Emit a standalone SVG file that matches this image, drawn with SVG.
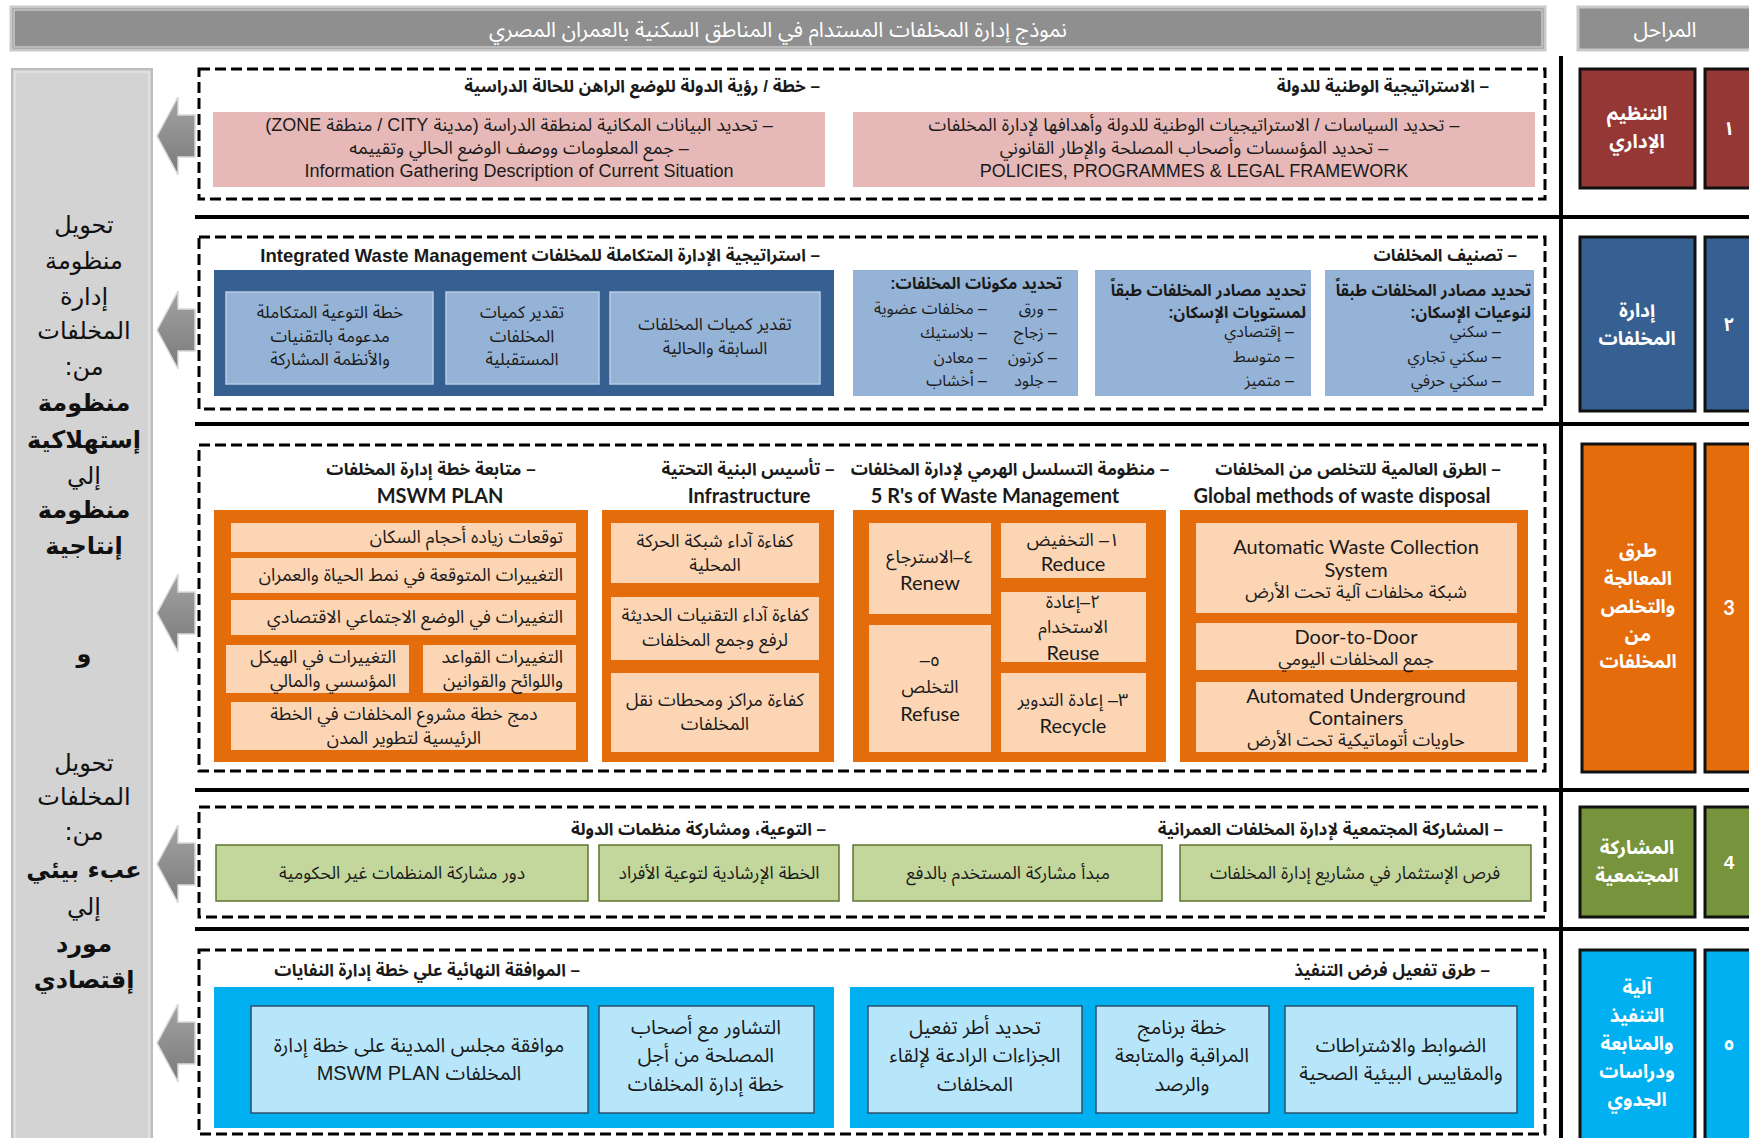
<svg xmlns="http://www.w3.org/2000/svg" width="1749" height="1138" viewBox="0 0 1749 1138">
<defs>
<style>
.t{font-family:"Liberation Sans","Noto Sans Arabic","Noto Naskh Arabic","DejaVu Sans",sans-serif;fill:#1a1a1a;dominant-baseline:central;font-size:18px}
.ar{direction:rtl;unicode-bidi:embed}
.c{text-anchor:middle}
.r{text-anchor:start}
.b{font-weight:bold}
.en{font-family:Lato,"Open Sans","Liberation Sans",sans-serif}
.w{fill:#fff}
.lp{font-family:"DejaVu Sans","Liberation Sans",sans-serif;font-size:24px;fill:#111}
.ti{font-size:17px;font-weight:bold}
.dash{fill:none;stroke:#000;stroke-width:3;stroke-dasharray:11 5}
.sep{stroke:#000;stroke-width:4}
.pink{fill:#e6b9b8}
.dblue{fill:#376092}
.lblue{fill:#95b3d7}
.lblueb{fill:#95b3d7;stroke:#b8cce4;stroke-width:1.5}
.orng{fill:#e46c0a}
.peach{fill:#fcd5b4}
.grn{fill:#c3d69b;stroke:#5f7530;stroke-width:1.5}
.cyan{fill:#00b0f0}
.lcyan{fill:#b7e6fa;stroke:#2c4f6b;stroke-width:1.5}
.ph{stroke:#111;stroke-width:3}
.arw{fill:url(#ag);stroke:#d9d9d9;stroke-width:1.5}
</style>
<linearGradient id="ag" x1="0" y1="0" x2="0" y2="1">
<stop offset="0" stop-color="#a3a3a3"/>
<stop offset="1" stop-color="#7a7a7a"/>
</linearGradient>
<path id="arrow" d="M0,0 L21,-39 L21,-21 L38,-21 L38,21 L21,21 L21,39 Z"/>
</defs>
<rect width="1749" height="1138" fill="#fff"/>

<!-- Header -->
<g id="header">
<rect x="11" y="7" width="1534" height="43" fill="#8f8f8f" stroke="#c9c9c9" stroke-width="3"/>
<rect x="14" y="10" width="1528" height="37" fill="none" stroke="#e6e6e6" stroke-width="1"/>
<text class="t ar c w" x="778" y="29" style="font-size:21px">نموذج إدارة المخلفات المستدام  في المناطق السكنية  بالعمران المصري</text>
</g>
<g id="phases-header">
<rect x="1578" y="7" width="185" height="43" fill="#8f8f8f" stroke="#c9c9c9" stroke-width="3"/>
<text class="t ar c w" x="1665" y="29" style="font-size:21px">المراحل</text>
</g>

<!-- Left panel -->
<g id="left-panel">
<rect x="12" y="69" width="140" height="1080" fill="#d3d3d3" stroke="#bdbdbd" stroke-width="2"/>
<rect x="15" y="72" width="134" height="1080" fill="none" stroke="#ececec" stroke-width="1"/>
<text class="lp ar c" x="84" y="233">تحويل</text>
<text class="lp ar c" x="84" y="269">منظومة</text>
<text class="lp ar c" x="84" y="305">إدارة</text>
<text class="lp ar c" x="84" y="339">المخلفات</text>
<text class="lp ar c" x="84" y="375">من:</text>
<text class="lp ar c b" x="84" y="411">منظومة</text>
<text class="lp ar c b" x="84" y="448">إستهلاكية</text>
<text class="lp ar c" x="84" y="484">إلي</text>
<text class="lp ar c b" x="84" y="518">منظومة</text>
<text class="lp ar c b" x="84" y="554">إنتاجية</text>
<text class="lp ar c b" x="84" y="662">و</text>
<text class="lp ar c" x="84" y="771">تحويل</text>
<text class="lp ar c" x="84" y="805">المخلفات</text>
<text class="lp ar c" x="84" y="840">من:</text>
<text class="lp ar c b" x="84" y="878">عبء  بيئي</text>
<text class="lp ar c" x="84" y="915">إلي</text>
<text class="lp ar c b" x="84" y="952">مورد</text>
<text class="lp ar c b" x="84" y="988">إقتصادي</text>
</g>

<!-- Connectors: arrows and separators -->
<g id="connectors">
<use href="#arrow" class="arw" x="157" y="136"/>
<use href="#arrow" class="arw" x="157" y="330"/>
<use href="#arrow" class="arw" x="157" y="613"/>
<use href="#arrow" class="arw" x="157" y="864"/>
<use href="#arrow" class="arw" x="157" y="1043"/>
<line class="sep" x1="195" y1="217" x2="1749" y2="217"/>
<line class="sep" x1="195" y1="424" x2="1749" y2="424"/>
<line class="sep" x1="195" y1="790" x2="1749" y2="790"/>
<line class="sep" x1="195" y1="929" x2="1749" y2="929"/>
<line class="sep" x1="1561" y1="56" x2="1561" y2="1138"/>
</g>

<!-- Row 1 -->
<g id="row1">
<rect class="dash" x="199" y="69" width="1346" height="130"/>
<text class="t ar r ti" x="1489" y="86">– الاستراتيجية الوطنية للدولة</text>
<text class="t ar r ti" x="820" y="86">– خطة / رؤية الدولة للوضع الراهن للحالة الدراسية</text>
<g id="r1-left">
<rect class="pink" x="213" y="112" width="612" height="75"/>
<text class="t ar c" x="519" y="125">– تحديد البيانات المكانية لمنطقة الدراسة (مدينة  CITY / منطقة ZONE)</text>
<text class="t ar c" x="519" y="148">– جمع المعلومات ووصف الوضع الحالي وتقييمه</text>
<text class="t c" x="519" y="171">Information Gathering Description of Current Situation</text>
</g>
<g id="r1-right">
<rect class="pink" x="853" y="112" width="682" height="75"/>
<text class="t ar c" x="1194" y="125">– تحديد السياسات / الاستراتيجيات الوطنية للدولة وأهدافها لإدارة المخلفات</text>
<text class="t ar c" x="1194" y="148">– تحديد المؤسسات وأصحاب المصلحة  والإطار القانوني</text>
<text class="t c" x="1194" y="171">POLICIES, PROGRAMMES &amp; LEGAL FRAMEWORK</text>
</g>
</g>

<!-- Row 2 -->
<g id="row2">
<rect class="dash" x="199" y="237" width="1346" height="172"/>
<text class="t ar r ti" x="1517" y="255">– تصنيف المخلفات</text>
<text class="t ar r ti" x="820" y="255">– استراتيجية الإدارة المتكاملة للمخلفات <tspan style="font-size:18.5px">Integrated Waste Management</tspan></text>
<g id="r2-iwm">
<rect class="dblue" x="214" y="270" width="620" height="126"/>
<rect class="lblueb" x="226" y="292" width="207" height="92"/>
<text class="t ar c" x="330" y="312" style="font-size:17px">خطة التوعية المتكاملة</text>
<text class="t ar c" x="330" y="336" style="font-size:17px">مدعومة بالتقنيات</text>
<text class="t ar c" x="330" y="359" style="font-size:17px">والأنظمة المشاركة</text>
<rect class="lblueb" x="446" y="292" width="153" height="92"/>
<text class="t ar c" x="522" y="312" style="font-size:17px">تقدير كميات</text>
<text class="t ar c" x="522" y="336" style="font-size:17px">المخلفات</text>
<text class="t ar c" x="522" y="359" style="font-size:17px">المستقبلية</text>
<rect class="lblueb" x="610" y="292" width="210" height="92"/>
<text class="t ar c" x="715" y="324" style="font-size:17px">تقدير كميات المخلفات</text>
<text class="t ar c" x="715" y="348" style="font-size:17px">السابقة والحالية</text>
</g>
<g id="r2-components">
<rect class="lblue" x="853" y="270" width="225" height="126"/>
<text class="t ar r b" x="1062" y="283" style="font-size:16px">تحديد مكونات المخلفات:</text>
<text class="t ar r" x="1057" y="308" style="font-size:16px">– ورق</text>
<text class="t ar r" x="1057" y="332" style="font-size:16px">– زجاج</text>
<text class="t ar r" x="1057" y="357" style="font-size:16px">– كرتون</text>
<text class="t ar r" x="1057" y="380" style="font-size:16px">– جلود</text>
<text class="t ar r" x="987" y="308" style="font-size:16px">– مخلفات عضوية</text>
<text class="t ar r" x="987" y="332" style="font-size:16px">– بلاستيك</text>
<text class="t ar r" x="987" y="357" style="font-size:16px">– معادن</text>
<text class="t ar r" x="987" y="380" style="font-size:16px">– أخشاب</text>
</g>
<g id="r2-levels">
<rect class="lblue" x="1095" y="270" width="216" height="126"/>
<text class="t ar r b" x="1306" y="290" style="font-size:16px">تحديد مصادر المخلفات طبقاً</text>
<text class="t ar r b" x="1306" y="312" style="font-size:16px">لمستويات الإسكان:</text>
<text class="t ar r" x="1294" y="331" style="font-size:16px">– إقتصادي</text>
<text class="t ar r" x="1294" y="356" style="font-size:16px">– متوسط</text>
<text class="t ar r" x="1294" y="380" style="font-size:16px">– متميز</text>
</g>
<g id="r2-types">
<rect class="lblue" x="1325" y="270" width="209" height="126"/>
<text class="t ar r b" x="1531" y="290" style="font-size:16px">تحديد مصادر المخلفات طبقاً</text>
<text class="t ar r b" x="1531" y="312" style="font-size:16px">لنوعيات الإسكان:</text>
<text class="t ar r" x="1501" y="331" style="font-size:16px">– سكني</text>
<text class="t ar r" x="1501" y="356" style="font-size:16px">– سكني تجاري</text>
<text class="t ar r" x="1501" y="380" style="font-size:16px">– سكني حرفي</text>
</g>
</g>

<!-- Row 3 -->
<g id="row3">
<rect class="dash" x="199" y="445" width="1346" height="326"/>
<text class="t ar c ti" x="1358" y="469">– الطرق العالمية للتخلص من المخلفات</text>
<text class="t en c b" x="1342" y="495" style="font-size:20px">Global methods of waste disposal</text>
<text class="t ar c ti" x="1010" y="469">– منظومة التسلسل الهرمي لإدارة المخلفات</text>
<text class="t en c b" x="995" y="495" style="font-size:20px">5 R's of Waste Management</text>
<text class="t ar c ti" x="748" y="469">– تأسيس البنية التحتية</text>
<text class="t en c b" x="749" y="495" style="font-size:20px">Infrastructure</text>
<text class="t ar c ti" x="431" y="469">– متابعة خطة إدارة المخلفات</text>
<text class="t en c b" x="440" y="495" style="font-size:20px">MSWM PLAN</text>
<g id="r3-mswm">
<rect class="orng" x="214" y="510" width="374" height="252"/>
<rect class="peach" x="231" y="523" width="345" height="29"/>
<text class="t ar r" x="563" y="537">توقعات زياده أحجام السكان</text>
<rect class="peach" x="231" y="558" width="345" height="35"/>
<text class="t ar r" x="563" y="575">التغييرات المتوقعة في نمط الحياة والعمران</text>
<rect class="peach" x="231" y="600" width="345" height="35"/>
<text class="t ar r" x="563" y="617">التغييرات في الوضع الاجتماعي الاقتصادي</text>
<rect class="peach" x="423" y="645" width="153" height="48"/>
<text class="t ar r" x="563" y="657">التغييرات القواعد</text>
<text class="t ar r" x="563" y="681">واللوائح والقوانين</text>
<rect class="peach" x="226" y="645" width="183" height="48"/>
<text class="t ar r" x="396" y="657">التغييرات في الهيكل</text>
<text class="t ar r" x="396" y="681">المؤسسي والمالي</text>
<rect class="peach" x="231" y="702" width="345" height="48"/>
<text class="t ar c" x="404" y="714">دمج خطة مشروع المخلفات في الخطة</text>
<text class="t ar c" x="404" y="738">الرئيسية لتطوير المدن</text>
</g>
<g id="r3-infra">
<rect class="orng" x="602" y="510" width="232" height="252"/>
<rect class="peach" x="611" y="523" width="208" height="60"/>
<text class="t ar c" x="715" y="541">كفاءة آداء شبكة الحركة</text>
<text class="t ar c" x="715" y="565">المحلية</text>
<rect class="peach" x="611" y="597" width="208" height="63"/>
<text class="t ar c" x="715" y="615">كفاءة آداء التقنيات الحديثة</text>
<text class="t ar c" x="715" y="640">لرفع وجمع المخلفات</text>
<rect class="peach" x="611" y="673" width="208" height="79"/>
<text class="t ar c" x="715" y="700">كفاءة مراكز ومحطات نقل</text>
<text class="t ar c" x="715" y="724">المخلفات</text>
</g>
<g id="r3-5r">
<rect class="orng" x="853" y="510" width="313" height="252"/>
<rect class="peach" x="1001" y="523" width="145" height="55"/>
<text class="t ar c" x="1073" y="540">١– التخفيض</text>
<text class="t en c" x="1073" y="563" style="font-size:20px">Reduce</text>
<rect class="peach" x="1001" y="592" width="145" height="70"/>
<text class="t ar c" x="1073" y="602">٢–إعادة</text>
<text class="t ar c" x="1073" y="627">الاستخدام</text>
<text class="t en c" x="1073" y="652" style="font-size:20px">Reuse</text>
<rect class="peach" x="1001" y="673" width="145" height="79"/>
<text class="t ar c" x="1073" y="700">٣– إعادة التدوير</text>
<text class="t en c" x="1073" y="725" style="font-size:20px">Recycle</text>
<rect class="peach" x="869" y="523" width="122" height="91"/>
<text class="t ar c" x="930" y="557">٤–الاسترجاع</text>
<text class="t en c" x="930" y="582" style="font-size:20px">Renew</text>
<rect class="peach" x="869" y="625" width="122" height="127"/>
<text class="t ar c" x="930" y="660">٥–</text>
<text class="t ar c" x="930" y="687">التخلص</text>
<text class="t en c" x="930" y="713" style="font-size:20px">Refuse</text>
</g>
<g id="r3-global">
<rect class="orng" x="1180" y="510" width="348" height="252"/>
<rect class="peach" x="1196" y="523" width="321" height="90"/>
<text class="t en c" x="1356" y="546" style="font-size:20px">Automatic Waste Collection</text>
<text class="t en c" x="1356" y="569" style="font-size:20px">System</text>
<text class="t ar c" x="1356" y="592">شبكة مخلفات آلية تحت الأرض</text>
<rect class="peach" x="1196" y="623" width="321" height="47"/>
<text class="t en c" x="1356" y="636" style="font-size:20px">Door-to-Door</text>
<text class="t ar c" x="1356" y="659">جمع المخلفات اليومي</text>
<rect class="peach" x="1196" y="682" width="321" height="70"/>
<text class="t en c" x="1356" y="695" style="font-size:20px">Automated Underground</text>
<text class="t en c" x="1356" y="717" style="font-size:20px">Containers</text>
<text class="t ar c" x="1356" y="740">حاويات أتوماتيكية تحت الأرض</text>
</g>
</g>

<!-- Row 4 -->
<g id="row4">
<rect class="dash" x="199" y="807" width="1346" height="110"/>
<text class="t ar r ti" x="1503" y="829">– المشاركة المجتمعية  لإدارة المخلفات العمرانية</text>
<text class="t ar r ti" x="826" y="829">– التوعية، ومشاركة منظمات الدولة</text>
<g id="r4-ngo"><rect class="grn" x="216" y="845" width="372" height="56"/>
<text class="t ar c" x="402" y="873" style="font-size:17.5px">دور مشاركة المنظمات غير الحكومية</text></g>
<g id="r4-guide"><rect class="grn" x="599" y="845" width="240" height="56"/>
<text class="t ar c" x="719" y="873" style="font-size:17.5px">الخطة الإرشادية لتوعية الأفراد</text></g>
<g id="r4-pay"><rect class="grn" x="853" y="845" width="309" height="56"/>
<text class="t ar c" x="1008" y="873" style="font-size:17.5px">مبدأ مشاركة المستخدم بالدفع</text></g>
<g id="r4-invest"><rect class="grn" x="1180" y="845" width="351" height="56"/>
<text class="t ar c" x="1355" y="873" style="font-size:17.5px">فرص الإستثمار في مشاريع إدارة المخلفات</text></g>
</g>

<!-- Row 5 -->
<g id="row5">
<rect class="dash" x="199" y="950" width="1346" height="184"/>
<text class="t ar r ti" x="1490" y="970">– طرق تفعيل فرض التنفيذ</text>
<text class="t ar r ti" x="580" y="970">– الموافقة النهائية علي خطة إدارة النفايات</text>
<rect class="cyan" x="214" y="987" width="620" height="141"/>
<rect class="cyan" x="850" y="987" width="684" height="141"/>
<g id="r5-council"><rect class="lcyan" x="251" y="1006" width="337" height="107"/>
<text class="t ar c" x="419" y="1045" style="font-size:20px">موافقة مجلس المدينة على خطة إدارة</text>
<text class="t ar c" x="419" y="1073" style="font-size:20px">المخلفات MSWM PLAN</text></g>
<g id="r5-consult"><rect class="lcyan" x="599" y="1006" width="215" height="107"/>
<text class="t ar c" x="706" y="1027" style="font-size:20px">التشاور مع أصحاب</text>
<text class="t ar c" x="706" y="1055" style="font-size:20px">المصلحة من أجل</text>
<text class="t ar c" x="706" y="1084" style="font-size:20px">خطة  إدارة المخلفات</text></g>
<g id="r5-penalty"><rect class="lcyan" x="868" y="1006" width="214" height="107"/>
<text class="t ar c" x="975" y="1027" style="font-size:20px">تحديد أطر تفعيل</text>
<text class="t ar c" x="975" y="1055" style="font-size:20px">الجزاءات الرادعة لإلقاء</text>
<text class="t ar c" x="975" y="1084" style="font-size:20px">المخلفات</text></g>
<g id="r5-monitor"><rect class="lcyan" x="1096" y="1006" width="173" height="107"/>
<text class="t ar c" x="1182" y="1027" style="font-size:20px">خطة برنامج</text>
<text class="t ar c" x="1182" y="1055" style="font-size:20px">المراقبة والمتابعة</text>
<text class="t ar c" x="1182" y="1084" style="font-size:20px">والرصد</text></g>
<g id="r5-standards"><rect class="lcyan" x="1285" y="1006" width="232" height="107"/>
<text class="t ar c" x="1401" y="1045" style="font-size:20px">الضوابط والاشتراطات</text>
<text class="t ar c" x="1401" y="1073" style="font-size:20px">والمقاييس البيئية الصحية</text></g>
</g>

<!-- Phase column -->
<g id="phase1">
<rect class="ph" x="1580" y="69" width="115" height="119" fill="#953735"/>
<rect class="ph" x="1705" y="69" width="60" height="119" fill="#953735"/>
<text class="t ar c b w" x="1637" y="113" style="font-size:19px">التنظيم</text>
<text class="t ar c b w" x="1637" y="141" style="font-size:19px">الإداري</text>
<text class="t c b w" x="1729" y="128" style="font-size:19px">١</text>
</g>
<g id="phase2">
<rect class="ph" x="1580" y="237" width="115" height="174" fill="#376092"/>
<rect class="ph" x="1705" y="237" width="60" height="174" fill="#376092"/>
<text class="t ar c b w" x="1637" y="310" style="font-size:19px">إدارة</text>
<text class="t ar c b w" x="1637" y="338" style="font-size:19px">المخلفات</text>
<text class="t c b w" x="1729" y="324" style="font-size:19px">٢</text>
</g>
<g id="phase3">
<rect class="ph" x="1582" y="444" width="113" height="328" fill="#e46c0a"/>
<rect class="ph" x="1705" y="444" width="60" height="328" fill="#e46c0a"/>
<text class="t ar c b w" x="1638" y="550" style="font-size:19px">طرق</text>
<text class="t ar c b w" x="1638" y="578" style="font-size:19px">المعالجة</text>
<text class="t ar c b w" x="1638" y="606" style="font-size:19px">والتخلص</text>
<text class="t ar c b w" x="1638" y="634" style="font-size:19px">من</text>
<text class="t ar c b w" x="1638" y="661" style="font-size:19px">المخلفات</text>
<text class="t en c b w" x="1729" y="607" style="font-size:20px">3</text>
</g>
<g id="phase4">
<rect class="ph" x="1580" y="807" width="115" height="110" fill="#77933c"/>
<rect class="ph" x="1705" y="807" width="60" height="110" fill="#77933c"/>
<text class="t ar c b w" x="1637" y="847" style="font-size:19px">المشاركة</text>
<text class="t ar c b w" x="1637" y="875" style="font-size:19px">المجتمعية</text>
<text class="t c b w" x="1729" y="862" style="font-size:19px">4</text>
</g>
<g id="phase5">
<rect class="ph" x="1580" y="950" width="115" height="190" fill="#00b0f0"/>
<rect class="ph" x="1705" y="950" width="60" height="190" fill="#00b0f0"/>
<text class="t ar c b w" x="1637" y="987" style="font-size:19px">آلية</text>
<text class="t ar c b w" x="1637" y="1015" style="font-size:19px">التنفيذ</text>
<text class="t ar c b w" x="1637" y="1043" style="font-size:19px">والمتابعة</text>
<text class="t ar c b w" x="1637" y="1071" style="font-size:19px">ودراسات</text>
<text class="t ar c b w" x="1637" y="1099" style="font-size:19px">الجدوي</text>
<text class="t c b w" x="1729" y="1043" style="font-size:19px">٥</text>
</g>
</svg>
